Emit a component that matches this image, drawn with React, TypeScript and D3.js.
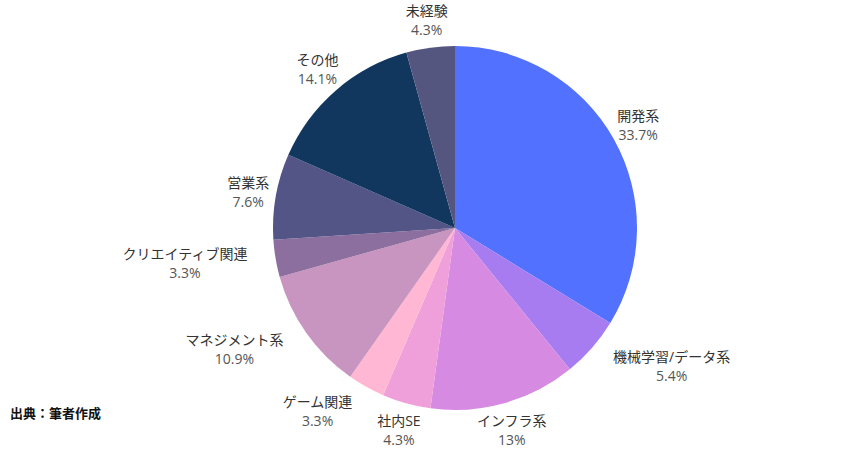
import React from "react";
import * as d3 from "d3";

const categories = ["開発系", "機械学習/データ系", "インフラ系", "社内SE", "ゲーム関連", "マネジメント系", "クリエイティブ関連", "営業系", "その他", "未経験"];
const values = [33.7, 5.4, 13, 4.3, 3.3, 10.9, 3.3, 7.6, 14.1, 4.3];
const pctLabels = ["33.7%", "5.4%", "13%", "4.3%", "3.3%", "10.9%", "3.3%", "7.6%", "14.1%", "4.3%"];
const colors = ["#5271ff", "#a67cf0", "#d68ae1", "#ef9fd9", "#ffb7d3", "#c795bf", "#8c6f9e", "#525585", "#11375f", "#55567f"];
const sourceText = "出典：筆者作成";

const W = 850, H = 450;
const cx = 455, cy = 228, R = 182, LR = 210;
const FONT = "14px 'Open Sans', 'Noto Sans CJK JP', sans-serif";

function measure(t: string): number {
  const c = document.createElement("canvas").getContext("2d");
  if (!c) return t.length * 14;
  c.font = FONT;
  return c.measureText(t).width;
}

type Box = { x0: number; x1: number; y0: number; y1: number };
const overlap = (a: Box, b: Box) => a.x0 < b.x1 && b.x0 < a.x1 && a.y0 < b.y1 && b.y0 < a.y1;
function hitsCircle(b: Box): boolean {
  const px = Math.max(b.x0, Math.min(cx, b.x1));
  const py = Math.max(b.y0, Math.min(cy, b.y1));
  return Math.hypot(px - cx, py - cy) < R;
}

export default function App() {
  const pie = d3.pie<number>().sort(null).value((d) => d)(values);
  const arc = d3.arc<d3.PieArcDatum<number>>().innerRadius(0).outerRadius(R);
  const labelArc = d3.arc<d3.PieArcDatum<number>>().innerRadius(LR).outerRadius(LR);

  const placed: Box[] = [];
  const labels = pie.map((p, i) => {
    const [lx, ly] = labelArc.centroid(p);
    const x = cx + lx, y = cy + ly;
    const w = Math.max(measure(categories[i]), measure(pctLabels[i]));
    const h = 34;
    let box: Box = { x0: x - w / 2, x1: x + w / 2, y0: y - h / 2, y1: y + h / 2 };
    if (hitsCircle(box) || placed.some((b) => overlap(b, box))) {
      box = x >= cx
        ? { x0: x, x1: x + w, y0: y - h / 2, y1: y + h / 2 }
        : { x0: x - w, x1: x, y0: y - h / 2, y1: y + h / 2 };
    }
    placed.push(box);
    return { x: (box.x0 + box.x1) / 2, y, i };
  });

  return (
    <div style={{ position: "absolute", left: 0, top: 0 }}>
      <svg width={W} height={H} style={{ display: "block", background: "#fff" }}>
        <g transform={`translate(${cx},${cy})`}>
          {pie.map((p, i) => (
            <path key={i} d={arc(p) || ""} fill={colors[i]} />
          ))}
        </g>
        {labels.map((l) => (
          <g key={l.i} style={{ font: FONT }}>
            <text x={l.x} y={l.y - 9.5} textAnchor="middle" dominantBaseline="central" fill="#333">
              {categories[l.i]}
            </text>
            <text x={l.x} y={l.y + 9.5} textAnchor="middle" dominantBaseline="central" fill="#555">
              {pctLabels[l.i]}
            </text>
          </g>
        ))}
        <text x={10} y={412} dominantBaseline="central" fill="#111"
          style={{ font: "bold 13px 'Noto Sans CJK JP', sans-serif" }}>
          {sourceText}
        </text>
      </svg>
    </div>
  );
}
